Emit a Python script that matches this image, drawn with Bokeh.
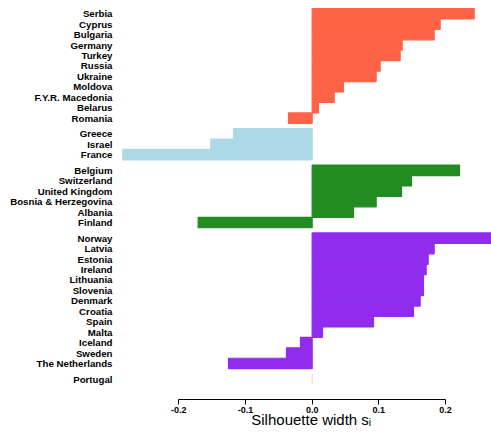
from bokeh.plotting import figure
from bokeh.models import Range1d, FixedTicker, PrintfTickFormatter, ColumnDataSource
from bokeh.embed import file_html
from bokeh.resources import INLINE

# Silhouette widths per country, grouped by cluster (sorted within each cluster)
cluster1 = ["Serbia", "Cyprus", "Bulgaria", "Germany", "Turkey", "Russia", "Ukraine",
            "Moldova", "F.Y.R. Macedonia", "Belarus", "Romania"]
sil1 = [0.243, 0.192, 0.183, 0.135, 0.132, 0.102, 0.096, 0.047, 0.033, 0.0095, -0.0355]

cluster2 = ["Greece", "Israel", "France"]
sil2 = [-0.118, -0.152, -0.284]

cluster3 = ["Belgium", "Switzerland", "United Kingdom", "Bosnia & Herzegovina",
            "Albania", "Finland"]
sil3 = [0.221, 0.149, 0.134, 0.096, 0.062, -0.171]

cluster4 = ["Norway", "Latvia", "Estonia", "Ireland", "Lithuania", "Slovenia", "Denmark",
            "Croatia", "Spain", "Malta", "Iceland", "Sweden", "The Netherlands"]
sil4 = [0.27, 0.183, 0.174, 0.171, 0.167, 0.167, 0.162, 0.152, 0.092, 0.0155,
        -0.0175, -0.0385, -0.1255]

cluster5 = ["Portugal"]
sil5 = [0.0]

clusters = [cluster1, cluster2, cluster3, cluster4, cluster5]
widths = [sil1, sil2, sil3, sil4, sil5]
cluster_colors = ["#FF6347", "#ADD8E6", "#228B22", "#912CEE", "#F5DEB3"]

# Stack bars top-down, one unit per bar, half a unit between clusters
names, vals, ys, cols = [], [], [], []
pos = 0.0
for k, (members, s) in enumerate(zip(clusters, widths)):
    if k > 0:
        pos += 0.5
    for name, v in zip(members, s):
        names.append(name)
        vals.append(v)
        ys.append(pos + 0.5)
        cols.append(cluster_colors[k])
        pos += 1.0

src = ColumnDataSource(dict(y=ys, right=vals, color=cols))

px_per_unit = 10.44
frame_h = 399
top_pad = 8 / px_per_unit

p = figure(width=491, height=433, output_backend="svg", toolbar_location=None,
           x_range=Range1d(-0.2905, 0.2690),
           y_range=Range1d(frame_h / px_per_unit - top_pad, -top_pad),
           min_border_left=118, min_border_right=0, min_border_top=0,
           min_border_bottom=34)
p.outline_line_color = None
p.xgrid.visible = False
p.ygrid.visible = False
p.background_fill_color = "white"

# outline in the fill colour closes the hairline seams between adjacent bars
p.hbar(y="y", left=0, right="right", height=1.0, fill_color="color",
       line_color="color", line_width=1.2, source=src)

# Country labels along the left
yax = p.yaxis[0]
yax.ticker = FixedTicker(ticks=ys)
yax.major_label_overrides = {y: n for y, n in zip(ys, names)}
yax.axis_line_color = None
yax.major_tick_line_color = None
yax.minor_tick_line_color = None
yax.major_tick_out = 0
yax.major_tick_in = 0
yax.major_label_standoff = 6
yax.major_label_text_font = "Liberation Sans"
yax.major_label_text_font_style = "bold"
yax.major_label_text_font_size = "9.7px"
yax.major_label_text_color = "black"

# Silhouette width axis
xax = p.xaxis[0]
xax.ticker = FixedTicker(ticks=[-0.2, -0.1, 0.0, 0.1, 0.2])
xax.formatter = PrintfTickFormatter(format="%.1f")
xax.bounds = (-0.2, 0.2)
xax.minor_tick_line_color = None
xax.major_tick_in = 0
xax.major_tick_out = 5
xax.axis_line_color = "black"
xax.major_tick_line_color = "black"
xax.major_label_standoff = 2
xax.major_label_text_font = "Liberation Sans"
xax.major_label_text_font_style = "bold"
xax.major_label_text_font_size = "9px"
xax.major_label_text_color = "black"
# leading no-break spaces nudge the centred title over the zero tick
xax.axis_label = "\u00a0\u00a0\u00a0Silhouette width sᵢ"
xax.axis_label_text_font = "Liberation Sans"
xax.axis_label_text_font_style = "normal"
xax.axis_label_text_font_size = "15px"
xax.axis_label_text_color = "black"
xax.axis_label_standoff = -5

open("out.html", "w").write(file_html(p, INLINE))
